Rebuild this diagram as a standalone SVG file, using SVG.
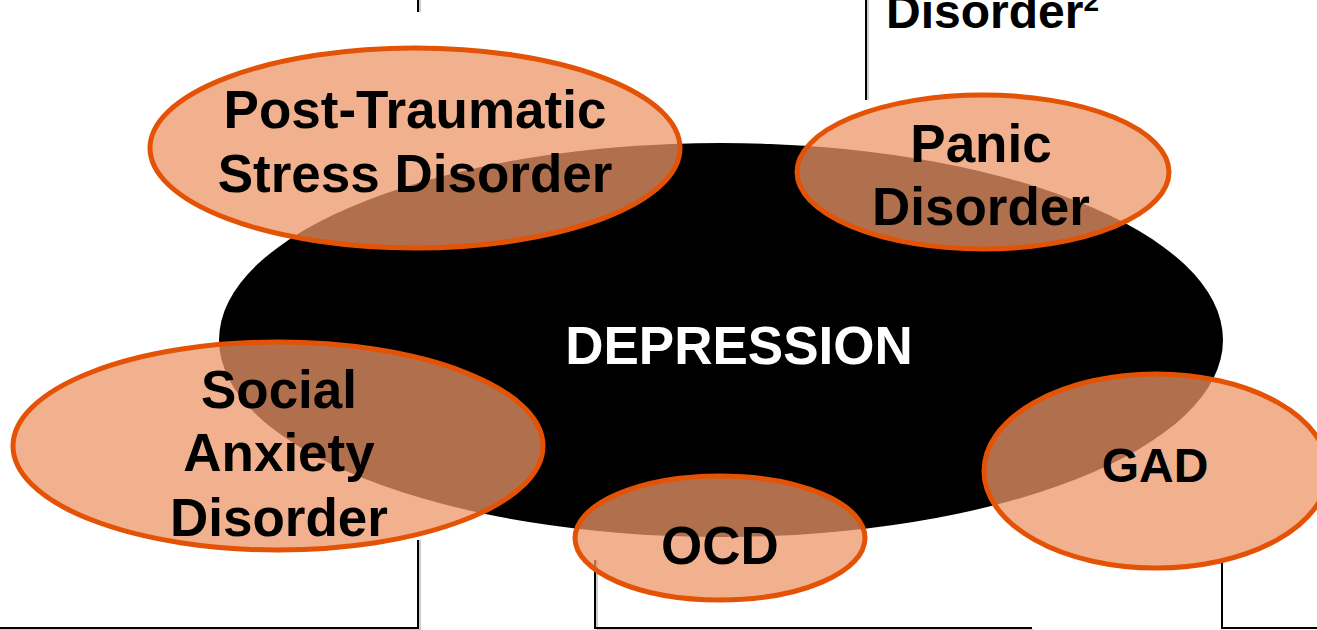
<svg xmlns="http://www.w3.org/2000/svg" width="1317" height="630" viewBox="0 0 1317 630">
<style>
.ln{fill:none;stroke:#000;stroke-width:2}
.sh{fill:none;stroke:#9a9a9a;stroke-width:1}
.ov{fill:#EC9667;fill-opacity:0.745;stroke:#E35205;stroke-width:5}
.t{font-family:"Liberation Sans",Arial,sans-serif;font-weight:bold;font-size:53px;text-anchor:middle;fill:#000}
</style>
<rect width="1317" height="630" fill="#fff"/>
<g id="connectors">
<path class="sh" d="M420,0 V12"/>
<path class="ln" d="M418,0 V12"/>
<path class="sh" d="M868,0 V100"/>
<path class="ln" d="M866,0 V100"/>
<path class="sh" d="M420,540 V630 M0,630 H420"/>
<path class="ln" d="M418,540 V628 H0"/>
<path class="sh" d="M597,560 V630 H1033"/>
<path class="ln" d="M595,560 V628 H1032"/>
<path class="ln" d="M1222,560 V628 H1317"/>
</g>
<text x="886" y="28" class="t" style="text-anchor:start;font-size:48px">Disorder<tspan dy="-17" style="font-size:28px">2</tspan></text>
<g id="depression">
<ellipse cx="721" cy="340" rx="502" ry="197" fill="#000"/>
<text x="739" y="364" class="t" style="fill:#fff">DEPRESSION</text>
</g>
<g id="ptsd">
<ellipse class="ov" cx="415" cy="148" rx="265" ry="100"/>
<text x="415" y="128" class="t">Post-Traumatic</text>
<text x="415" y="192" class="t">Stress Disorder</text>
</g>
<g id="panic">
<ellipse class="ov" cx="983" cy="172" rx="186" ry="77"/>
<text x="981" y="162" class="t">Panic</text>
<text x="981" y="225" class="t">Disorder</text>
</g>
<g id="social">
<ellipse class="ov" cx="278" cy="446" rx="265" ry="104"/>
<text x="279" y="408" class="t">Social</text>
<text x="279" y="471" class="t">Anxiety</text>
<text x="279" y="536" class="t">Disorder</text>
</g>
<g id="gad">
<ellipse class="ov" cx="1156" cy="471" rx="172" ry="97"/>
<text x="1155" y="482" class="t" style="font-size:48px">GAD</text>
</g>
<g id="ocd">
<ellipse class="ov" cx="720" cy="538" rx="145" ry="62"/>
<text x="720" y="564" class="t">OCD</text>
</g>
</svg>
